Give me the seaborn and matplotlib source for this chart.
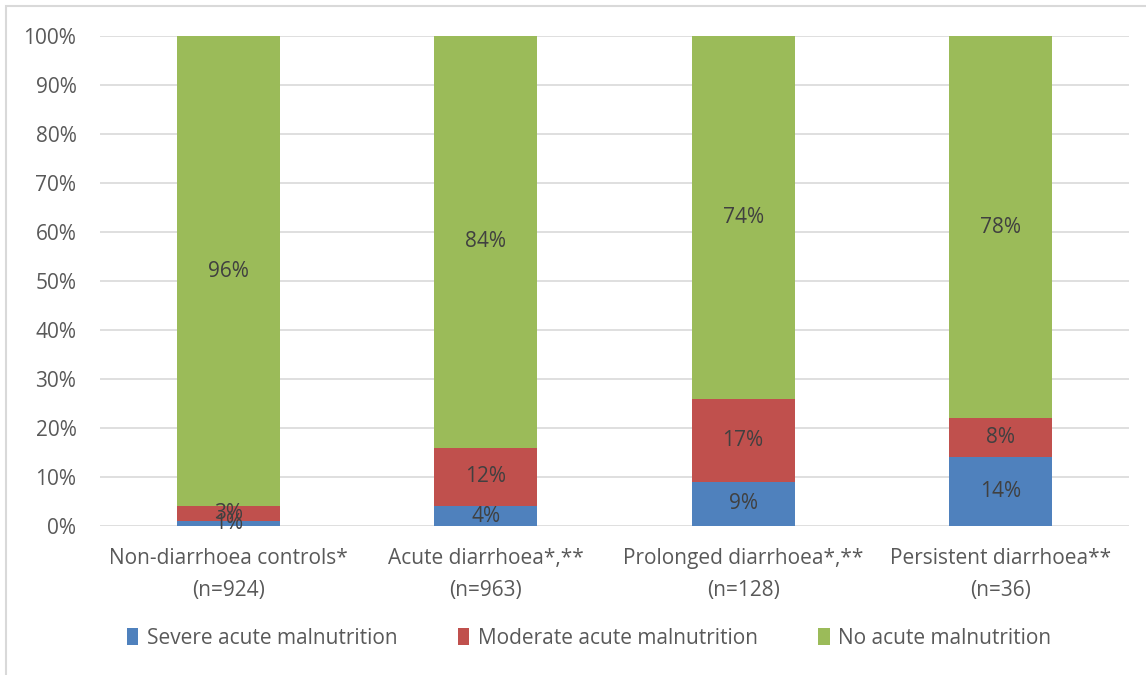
import matplotlib
matplotlib.use("Agg")
import matplotlib.pyplot as plt
from matplotlib.patches import Rectangle, Patch
import seaborn as sns
import pandas as pd

categories = [
    "Non-diarrhoea controls*\n(n=924)",
    "Acute diarrhoea*,**\n(n=963)",
    "Prolonged diarrhoea*,**\n(n=128)",
    "Persistent diarrhoea**\n(n=36)",
]
severe = [1, 4, 9, 14]
moderate = [3, 12, 17, 8]
no_acute = [96, 84, 74, 78]

series_names = ["Severe acute malnutrition", "Moderate acute malnutrition", "No acute malnutrition"]
colors = ["#4F81BD", "#C0504D", "#9BBB59"]
y_ticks = list(range(0, 101, 10))

sns.set_theme(style="white")
plt.rcParams["font.family"] = ["Open Sans", "DejaVu Sans"]
text_color = "#595959"
label_color = "#404040"
fs = 15

fig = plt.figure(figsize=(11.46, 6.75), dpi=100)
ax = fig.add_axes([100 / 1146, 1 - 526 / 675, 1029 / 1146, 490 / 675])

df = pd.DataFrame({"category": categories, "severe": severe,
                   "moderate": moderate, "no_acute": no_acute})
df["top_mod"] = df["severe"] + df["moderate"]
df["top_all"] = df["top_mod"] + df["no_acute"]

# Stacked bars drawn as overlapping cumulative layers (tallest first)
for col, c in [("top_all", colors[2]), ("top_mod", colors[1]), ("severe", colors[0])]:
    sns.barplot(data=df, x="category", y=col, color=c, width=0.4,
                saturation=1, ax=ax, edgecolor="none", linewidth=0, zorder=3)

# Segment value labels
for i in range(len(categories)):
    base = 0
    for vals in (severe, moderate, no_acute):
        v = vals[i]
        ax.text(i, base + v / 2, f"{v}%", ha="center", va="center",
                fontsize=fs, color=label_color, zorder=5)
        base += v

ax.set_ylim(0, 100)
ax.set_xlim(-0.5, len(categories) - 0.5)
ax.set_yticks(y_ticks)
ax.set_yticklabels([f"{t}%" for t in y_ticks])
ax.yaxis.grid(True, color="#D9D9D9", linewidth=1.2, zorder=0)
ax.set_axisbelow(True)
ax.set_xlabel("")
ax.set_ylabel("")
for s in ax.spines.values():
    s.set_visible(False)
ax.tick_params(axis="both", length=0, colors=text_color, labelsize=fs)
ax.tick_params(axis="y", pad=17)
ax.tick_params(axis="x", pad=16)
for lbl in ax.get_xticklabels():
    lbl.set_linespacing(1.65)

handles = [Patch(facecolor=c, edgecolor="none") for c in colors]
leg = fig.legend(handles, series_names, loc="center", ncol=3,
                 bbox_to_anchor=(589 / 1146, 1 - 638 / 675), frameon=False,
                 fontsize=fs, handlelength=0.55, handleheight=0.85,
                 handletextpad=0.4, columnspacing=2.9)
for t in leg.get_texts():
    t.set_color(text_color)

# Outer chart frame
fig.patches.append(Rectangle((6 / 1146, -0.05), 1.1, (1 - 6 / 675) + 0.05,
                             transform=fig.transFigure, fill=False,
                             edgecolor="#D9D9D9", linewidth=1.5))

fig.savefig("out.png", dpi=100, facecolor="white")
